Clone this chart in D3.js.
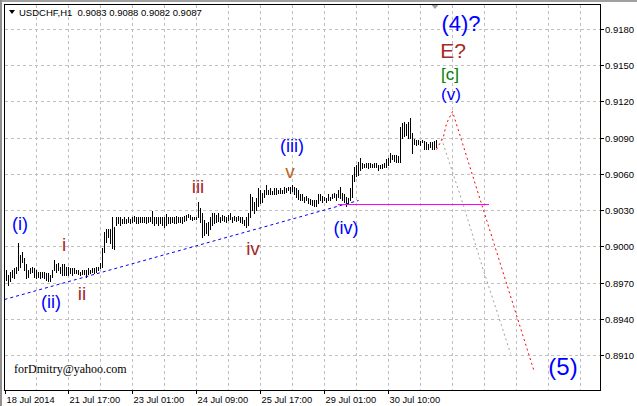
<!DOCTYPE html>
<html><head><meta charset="utf-8">
<script src="https://cdn.jsdelivr.net/npm/d3@7"></script>
<style>
html,body{margin:0;padding:0;background:#fff;overflow:hidden}
svg{display:block}
text{white-space:pre}
</style></head><body>
<svg id="c" width="637" height="406"></svg>
<script>
// ---------- data ----------
const symbolInfo = "USDCHF,H1";
const lastBarOHLC = ["0.9083", "0.9088", "0.9082", "0.9087"];

const highs = [
0.8980,0.8976,0.8979,0.8980,0.8982,0.8983,0.9003,0.8993,0.8995,0.8990,
0.8985,0.8980,0.8982,0.8983,0.8982,0.8980,0.8979,0.8979,0.8979,0.8979,
0.8978,0.8978,0.8976,0.8980,0.8989,0.8985,0.8986,0.8983,0.8985,0.8985,
0.8983,0.8983,0.8982,0.8982,0.8982,0.8980,0.8980,0.8979,0.8980,0.8980,
0.8980,0.8982,0.8980,0.8982,0.8982,0.8983,0.8983,0.8986,0.8999,0.9012,
0.9014,0.9014,0.9014,0.9024,0.9016,0.9024,0.9024,0.9024,0.9023,0.9024,
0.9023,0.9024,0.9023,0.9024,0.9025,0.9024,0.9024,0.9024,0.9024,0.9024,
0.9024,0.9024,0.9024,0.9029,0.9024,0.9024,0.9024,0.9024,0.9024,0.9024,
0.9027,0.9024,0.9024,0.9024,0.9024,0.9025,0.9024,0.9024,0.9024,0.9025,
0.9026,0.9027,0.9026,0.9024,0.9024,0.9024,0.9037,0.9032,0.9028,0.9022,
0.9019,0.9020,0.9024,0.9028,0.9028,0.9026,0.9028,0.9024,0.9026,0.9025,
0.9024,0.9026,0.9028,0.9024,0.9025,0.9024,0.9025,0.9024,0.9024,0.9022,
0.9024,0.9028,0.9043,0.9041,0.9037,0.9040,0.9048,0.9047,0.9044,0.9047,
0.9051,0.9047,0.9048,0.9046,0.9048,0.9048,0.9047,0.9048,0.9047,0.9049,
0.9048,0.9049,0.9049,0.9051,0.9049,0.9048,0.9047,0.9043,0.9043,0.9041,
0.9042,0.9040,0.9039,0.9038,0.9038,0.9038,0.9043,0.9043,0.9042,0.9041,
0.9040,0.9043,0.9041,0.9043,0.9044,0.9043,0.9047,0.9049,0.9044,0.9043,
0.9041,0.9040,0.9048,0.9059,0.9066,0.9067,0.9070,0.9073,0.9069,0.9068,
0.9069,0.9069,0.9069,0.9068,0.9069,0.9069,0.9067,0.9067,0.9068,0.9069,
0.9072,0.9073,0.9077,0.9076,0.9076,0.9076,0.9075,0.9099,0.9102,0.9103,
0.9101,0.9103,0.9106,0.9094,0.9089,0.9088,0.9088,0.9087,0.9088,0.9087,
0.9086,0.9085,0.9086,0.9086,0.9087,0.9088];

const lows = [
0.8972,0.8968,0.8971,0.8975,0.8974,0.8978,0.8980,0.8983,0.8987,0.8980,
0.8974,0.8975,0.8978,0.8979,0.8975,0.8974,0.8975,0.8974,0.8975,0.8974,
0.8972,0.8971,0.8971,0.8975,0.8980,0.8979,0.8980,0.8978,0.8976,0.8976,
0.8976,0.8976,0.8978,0.8976,0.8978,0.8978,0.8977,0.8976,0.8977,0.8977,
0.8975,0.8977,0.8978,0.8979,0.8978,0.8979,0.8980,0.8982,0.8983,0.8995,
0.9004,0.9008,0.9003,0.8999,0.8998,0.9018,0.9019,0.9018,0.9019,0.9019,
0.9019,0.9020,0.9019,0.9020,0.9021,0.9019,0.9019,0.9020,0.9020,0.9020,
0.9019,0.9020,0.9021,0.9019,0.9018,0.9019,0.9018,0.9019,0.9018,0.9016,
0.9018,0.9019,0.9019,0.9020,0.9019,0.9019,0.9020,0.9020,0.9019,0.9021,
0.9022,0.9024,0.9023,0.9022,0.9023,0.9023,0.9024,0.9020,0.9008,0.9009,
0.9011,0.9009,0.9014,0.9018,0.9019,0.9020,0.9021,0.9020,0.9022,0.9021,
0.9020,0.9022,0.9023,0.9020,0.9022,0.9021,0.9022,0.9020,0.9019,0.9018,
0.9016,0.9018,0.9024,0.9030,0.9028,0.9030,0.9033,0.9036,0.9037,0.9041,
0.9043,0.9043,0.9043,0.9043,0.9043,0.9043,0.9044,0.9044,0.9044,0.9044,
0.9045,0.9047,0.9044,0.9046,0.9043,0.9041,0.9039,0.9038,0.9038,0.9037,
0.9038,0.9036,0.9035,0.9034,0.9033,0.9033,0.9036,0.9038,0.9037,0.9038,
0.9037,0.9038,0.9038,0.9040,0.9041,0.9038,0.9041,0.9040,0.9038,0.9037,
0.9033,0.9035,0.9038,0.9041,0.9054,0.9058,0.9059,0.9063,0.9065,0.9066,
0.9066,0.9065,0.9066,0.9066,0.9066,0.9066,0.9063,0.9065,0.9065,0.9066,
0.9066,0.9067,0.9070,0.9072,0.9071,0.9070,0.9070,0.9070,0.9090,0.9091,
0.9092,0.9090,0.9090,0.9077,0.9085,0.9084,0.9085,0.9084,0.9086,0.9081,
0.9081,0.9081,0.9082,0.9081,0.9081,0.9082];

const priceTicks = [0.8910,0.8940,0.8970,0.9000,0.9030,0.9060,0.9090,0.9120,0.9150,0.9180];
const timeLabels = ["18 Jul 2014","21 Jul 17:00","23 Jul 01:00","24 Jul 09:00","25 Jul 17:00","29 Jul 01:00","30 Jul 10:00"];
const timeLabelBars = [-0.75,31,63,95,127,159,191];
const gridBars = [15,31,47,63,79,95,111,127,143,159,175,191,207,223,239,255,271,287];

// drawn objects (bar index, price)
const trendBars = [-1.25, 175.9];
const trendPrices = [0.8956, 0.9038];
const levelBars = [165.75, 241.25];
const levelPrice = 0.9035;
const redPathBars = [214.75, 218.4, 220.1, 223.1, 263.9];
const redPathPrices = [0.9081, 0.9091, 0.9102, 0.9112, 0.8896];
const grayPathBars = [217.6, 228.25, 238.25, 247.6, 251.75];
const grayPathPrices = [0.9090, 0.9034, 0.8980, 0.8935, 0.8912];

const labelTexts  = ["(i)","i","(ii)","ii","iii","(iii)","iv","v","(iv)","(v)","[c]","E?","(4)?","(5)"];
const labelBars   = [7, 28.75, 22.25, 38, 95.75, 142.75, 123.25, 142, 170, 222.25, 222, 223.5, 227.6, 278.25];
const labelPrices = [0.9018,0.9002,0.8953,0.8961,0.9050,0.9082,0.8999,0.9061,0.9014,0.9125,0.9142,0.9163,0.9183,0.8898];
const signature = "forDmitry@yahoo.com";

// ---------- layout ----------
const svg = d3.select("#c");
const frame = {l:4, t:4, r:600, b:390};
const xs = d3.scaleLinear().domain([0,1]).rangeRound([6,8]);
const ys = d3.scaleLinear().domain([0.8910,0.9180]).rangeRound([355,29]);
const uiFont = "'Liberation Sans', Arial, sans-serif";

svg.append("rect").attr("width",637).attr("height",406).attr("fill","#fff");
// window edges
svg.append("rect").attr("x",0).attr("y",0).attr("width",637).attr("height",2).attr("fill","#a0a0a0");
svg.append("rect").attr("x",0).attr("y",0).attr("width",2).attr("height",406).attr("fill","#909090");

// clip
svg.append("clipPath").attr("id","clip").append("rect")
  .attr("x",frame.l+1).attr("y",frame.t+1).attr("width",frame.r-frame.l-1).attr("height",frame.b-frame.t-1);

// grid
const grid = svg.append("g").attr("stroke","#c0c0c0").attr("stroke-dasharray","3,3").attr("shape-rendering","crispEdges");
grid.selectAll("line.h").data(priceTicks).join("line").attr("class","h")
  .attr("x1",frame.l+1).attr("x2",frame.r).attr("y1",d=>ys(d)+0.5).attr("y2",d=>ys(d)+0.5);
grid.selectAll("line.v").data(gridBars).join("line").attr("class","v")
  .attr("y1",frame.t+1).attr("y2",frame.b).attr("x1",d=>xs(d)+0.5).attr("x2",d=>xs(d)+0.5);

const plot = svg.append("g").attr("clip-path","url(#clip)");

// price bars (high-low)
plot.append("g").attr("fill","#000").attr("shape-rendering","crispEdges")
  .selectAll("rect").data(highs.map((h,i)=>({i,h,l:lows[i]}))).join("rect")
  .attr("x",d=>xs(d.i)).attr("width",1)
  .attr("y",d=>ys(d.h)).attr("height",d=>ys(d.l)-ys(d.h)+1);

// trend line
const line = d3.line().x(d=>xs(d[0])+0.5).y(d=>ys(d[1])+0.5);
plot.append("path").attr("d",line(d3.zip(trendBars,trendPrices)))
  .attr("fill","none").attr("stroke","#0000ff").attr("stroke-width",1).attr("stroke-dasharray","3,3");
// horizontal level
plot.append("line").attr("x1",xs(levelBars[0])).attr("x2",xs(levelBars[1]))
  .attr("y1",ys(levelPrice)+0.5).attr("y2",ys(levelPrice)+0.5)
  .attr("stroke","#ff00ff").attr("stroke-width",1).attr("shape-rendering","crispEdges");
// forecast paths
plot.append("path").attr("d",line(d3.zip(grayPathBars,grayPathPrices)))
  .attr("fill","none").attr("stroke","#a0a0a0").attr("stroke-dasharray","2,3");
plot.append("path").attr("d",line(d3.zip(redPathBars,redPathPrices)))
  .attr("fill","none").attr("stroke","#ff0000").attr("stroke-dasharray","2,3");

// wave labels
function labelStyle(t){
  if(t==="(4)?") return {fill:"#0000ff", size:22};
  if(t==="(5)") return {fill:"#0000ff", size:24};
  if(t==="E?") return {fill:"#a52a2a", size:21};
  if(t==="[c]") return {fill:"#008000", size:17};
  if(t==="(v)") return {fill:"#0000ff", size:17};
  if(t[0]==="(") return {fill:"#0000ff", size:18};
  if(t==="v") return {fill:"#c0641e", size:19};
  return {fill:"#a52a2a", size:19};
}
function baseOff(t){
  if(t[0]==="(" || t[0]==="[" || t==="v") return 0.27;
  return 0.36;
}
svg.append("g").selectAll("text").data(labelTexts).join("text")
  .text(d=>d)
  .attr("x",(d,i)=>xs(labelBars[i]))
  .attr("y",(d,i)=>ys(labelPrices[i]) + baseOff(d)*labelStyle(d).size)
  .attr("text-anchor","middle")
  .attr("font-family",uiFont)
  .attr("font-size",d=>labelStyle(d).size)
  .attr("fill",d=>labelStyle(d).fill);

// signature
svg.append("text").text(signature).attr("x",14).attr("y",373)
  .attr("font-family","'Liberation Serif','Times New Roman',serif").attr("font-size",12).attr("fill","#000");

// frame
svg.append("rect").attr("x",frame.l+0.5).attr("y",frame.t+0.5)
  .attr("width",frame.r-frame.l).attr("height",frame.b-frame.t)
  .attr("fill","none").attr("stroke","#000").attr("shape-rendering","crispEdges");

// chart shift marker
const mx = xs(highs.length-1) - 1;
svg.append("path").attr("d",`M${mx-3.5},5 L${mx+3.5},5 L${mx},9 Z`).attr("fill","#a0a0a0");

// y axis
const yAxis = d3.axisRight(ys).tickValues(priceTicks).tickFormat(d3.format(".4f")).tickSize(4).tickPadding(1);
const gy = svg.append("g").attr("transform",`translate(${frame.r},0)`).call(yAxis);
gy.select(".domain").remove();
gy.selectAll("line").attr("stroke","#000").attr("shape-rendering","crispEdges");
gy.selectAll("text").attr("font-family",uiFont).attr("font-size",9.5).attr("fill","#000");

// x axis
const xAxis = d3.axisBottom(xs).tickValues(timeLabelBars).tickFormat((d,i)=>timeLabels[i]).tickSize(4);
const gx = svg.append("g").attr("transform",`translate(0,${frame.b})`).call(xAxis);
gx.select(".domain").remove();
gx.selectAll("line").attr("stroke","#000").attr("shape-rendering","crispEdges");
gx.selectAll("text").attr("font-family",uiFont).attr("font-size",9.3).attr("fill","#000")
  .attr("text-anchor","start").attr("x",1).attr("y",13).attr("dy",0);

// header
svg.append("path").attr("d","M9,10 L15,10 L12,14 Z").attr("fill","#000");
svg.append("text").text(symbolInfo + "  " + lastBarOHLC.join(" "))
  .attr("x",19).attr("y",15.5).attr("font-family",uiFont).attr("font-size",9.5).attr("fill","#000");
</script>
</body></html>
